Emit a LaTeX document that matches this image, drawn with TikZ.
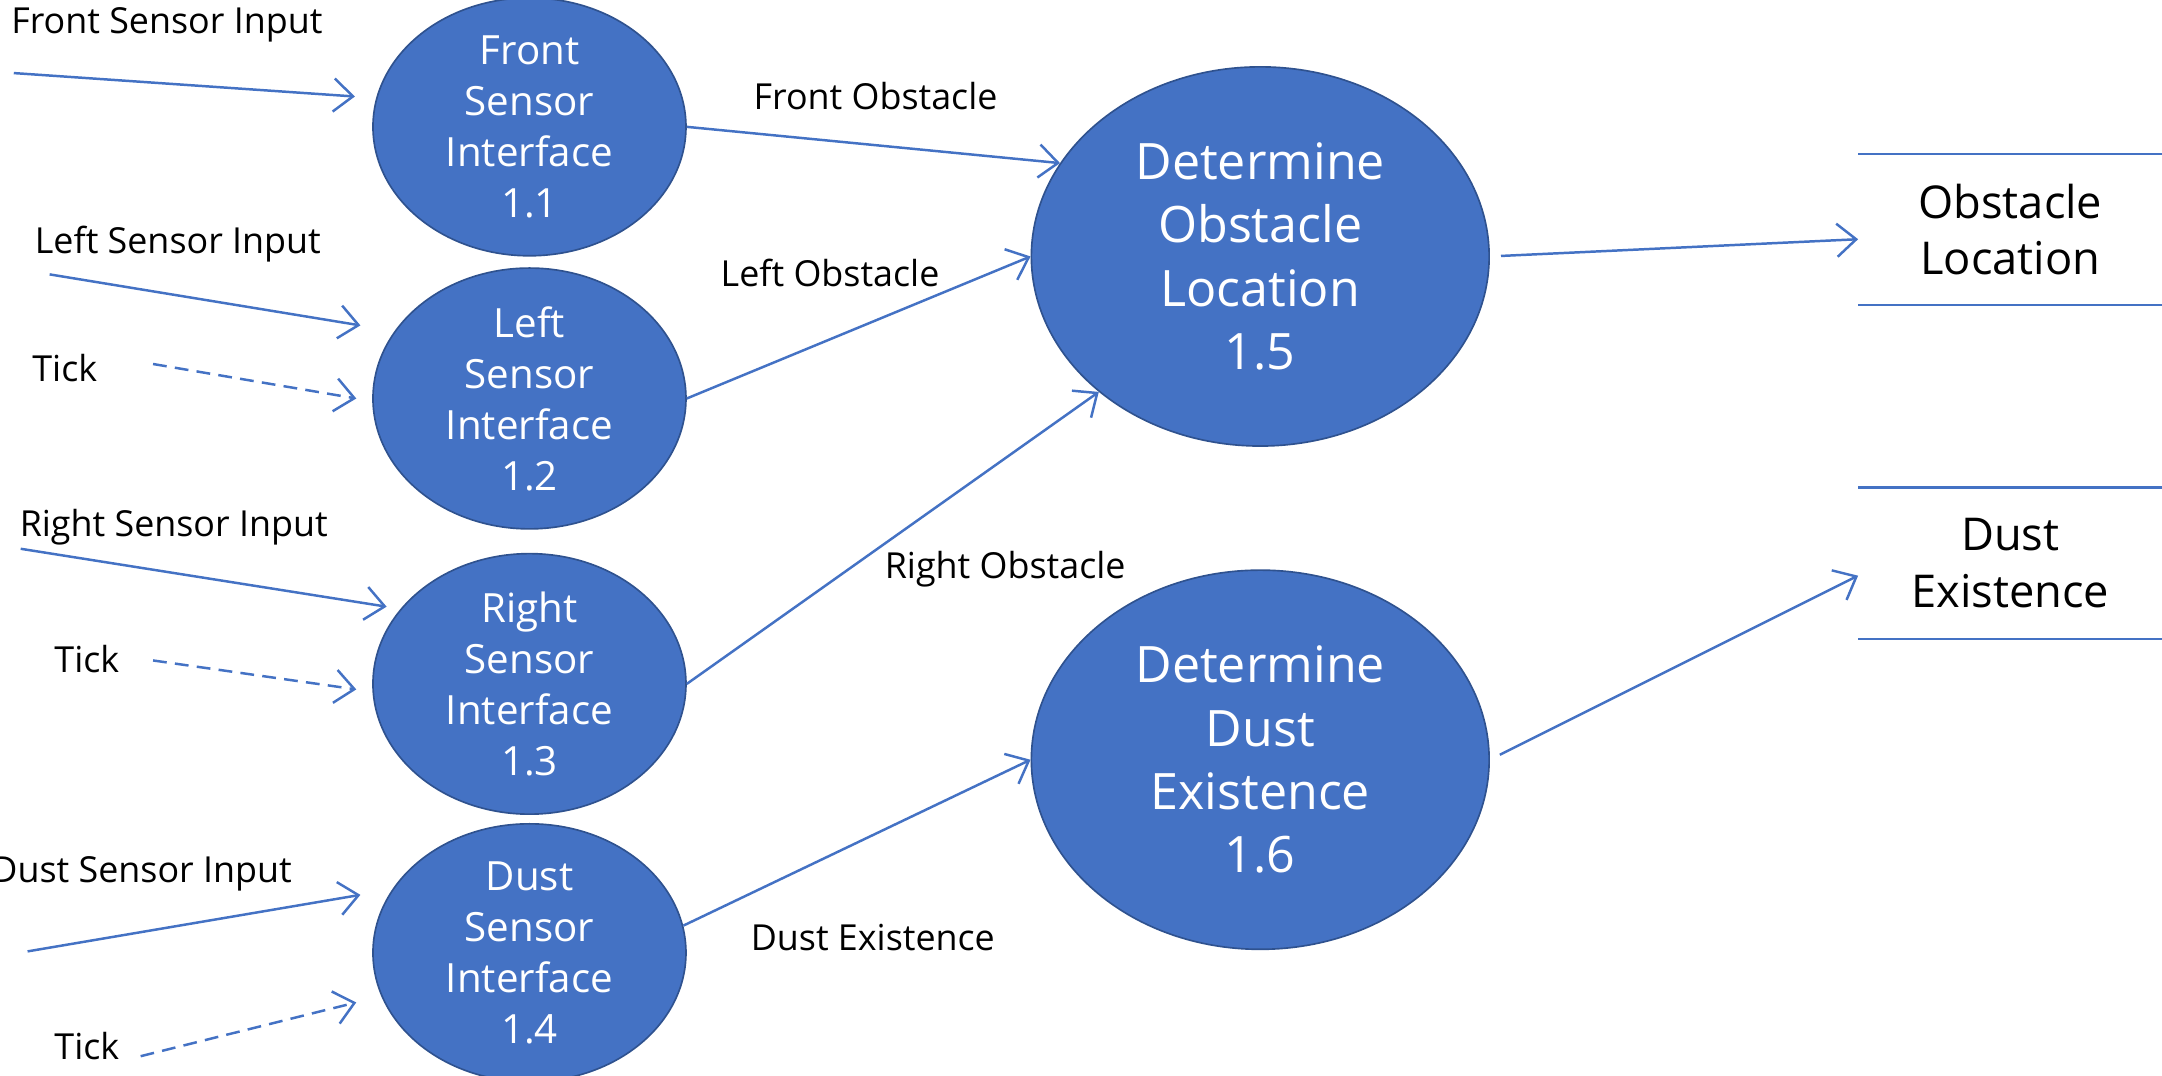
\documentclass[tikz,border=0pt]{standalone}
\usepackage{fontspec}
\setmainfont{Open Sans}
\usetikzlibrary{shapes.geometric,arrows.meta,calc}
\definecolor{obBlue}{HTML}{4472C4}
\definecolor{obEdge}{HTML}{2F528F}
\begin{document}
\begin{tikzpicture}[x=0.5pt,y=0.5pt,
 proc/.style={ellipse,fill=obBlue,draw=obEdge,line width=0.6pt,text=white,align=center,inner sep=0pt,minimum width=113.5pt,minimum height=92pt,font=\fontsize{14.6}{18.5}\selectfont},
 bigproc/.style={proc,minimum width=166pt,minimum height=137.5pt,font=\fontsize{18.2}{23}\selectfont},
 flow/.style={draw=obBlue,line width=0.9pt,-{Straight Barb[length=7pt,width=12pt]}},
 tickflow/.style={flow,dash pattern=on 5pt off 3pt},
 lbl/.style={font=\fontsize{13}{15}\selectfont,inner sep=0pt},
 store/.style={minimum width=110pt,minimum height=54.5pt,inner sep=0pt,align=center,font=\fontsize{16.4}{20.5}\selectfont},
 storeline/.style={draw=obBlue,line width=0.8pt}]
\useasboundingbox (0,0) rectangle (1568,-780);

% processes
\node[proc] (p11) at (384,-92) {Front\\Sensor\\Interface\\1.1};
\node[proc] (p12) at (384,-289) {Left\\Sensor\\Interface\\1.2};
\node[proc] (p13) at (384,-496) {Right\\Sensor\\Interface\\1.3};
\node[proc] (p14) at (384,-691) {Dust\\Sensor\\Interface\\1.4};
\node[bigproc] (p15) at (914,-186) {Determine\\Obstacle\\Location\\1.5};
\node[bigproc] (p16) at (914,-551) {Determine\\Dust\\Existence\\1.6};

% data stores
\node[store] (ds1) at (1458,-166.5) {Obstacle\\Location};
\node[store] (ds2) at (1458,-408.5) {Dust\\Existence};
\draw[storeline] (ds1.north west) -- (ds1.north east);
\draw[storeline] (ds1.south west) -- (ds1.south east);
\draw[storeline] (ds2.north west) -- (ds2.north east);
\draw[storeline] (ds2.south west) -- (ds2.south east);

% input start points
\coordinate (s1) at (10,-53);
\coordinate (s2) at (36,-199);
\coordinate (s3) at (111,-264);
\coordinate (s4) at (15,-398);
\coordinate (s5) at (111,-479);
\coordinate (s6) at (20,-690);
\coordinate (s7) at (102,-766);

% input labels
\node[lbl] (l1) at (121,-18) {Front Sensor Input};
\node[lbl] (l2) at (129,-177) {Left Sensor Input};
\node[lbl] (l3) at (47,-267) {Tick};
\node[lbl] (l4) at (126,-382) {Right Sensor Input};
\node[lbl] (l5) at (63,-478) {Tick};
\node[lbl,anchor=east] (l6) at (212,-634) {Dust Sensor Input};
\node[lbl] (l7) at (63,-759) {Tick};

% input flows
\draw[flow] (s1) -- ([shift={(-12.5,22)}]p11.west);
\draw[flow] (s2) -- ([shift={(-8.5,53)}]p12.west);
\draw[tickflow] (s3) -- ([shift={(-11.5,0)}]p12.west);
\draw[flow] (s4) -- ([shift={(10.5,56)}]p13.west);
\draw[tickflow] (s5) -- ([shift={(-11.5,-4)}]p13.west);
\draw[flow] (s6) -- ([shift={(-8.5,42)}]p14.west);
\draw[tickflow] (s7) -- ([shift={(-11.5,-36)}]p14.west);

% internal flows
\draw[flow] (p11.east) -- (p15.155);
\draw[flow] (p12.east) -- (p15.180);
\draw[flow] (p13.east) -- (p15.220);
\draw[flow] (p14.10) -- (p16.180);
\draw[flow,shorten <=4pt] (p15.east) -- ([yshift=-3.5]ds1.west);
\draw[flow,shorten <=4pt] (p16.east) -- ([yshift=-4.5]ds2.west);

% flow labels
\node[lbl] (f1) at (635,-70) {Front Obstacle};
\node[lbl] (f2) at (602,-198) {Left Obstacle};
\node[lbl] (f3) at (729,-413) {Right Obstacle};
\node[lbl] (f4) at (633,-680) {Dust Existence};
\end{tikzpicture}
\end{document}
